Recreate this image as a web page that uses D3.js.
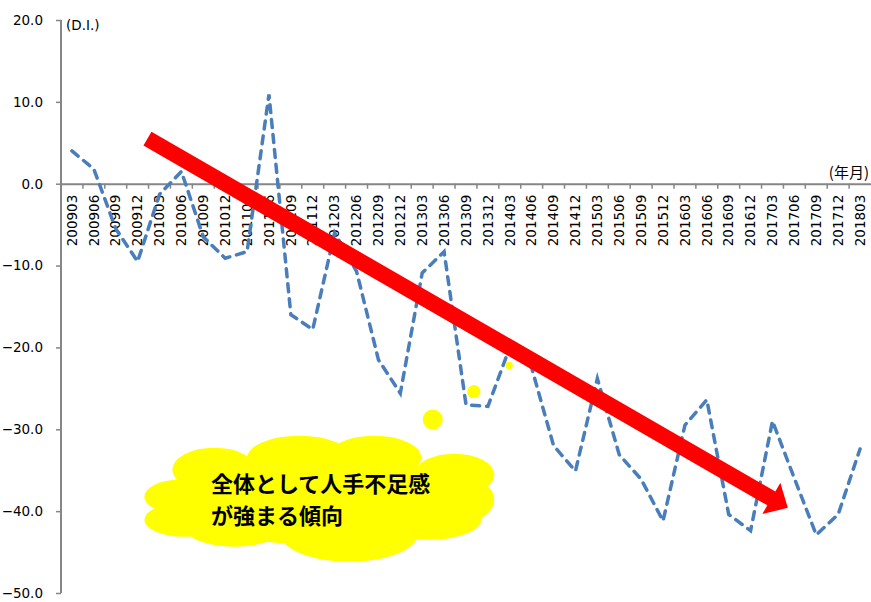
<!DOCTYPE html>
<html>
<head>
<meta charset="utf-8">
<script src="https://cdnjs.cloudflare.com/ajax/libs/d3/7.8.5/d3.min.js"></script>
<style>
  body { margin: 0; background: #fff; }
  svg { display: block; }
</style>
</head>
<body>
<script>
// quarterly D.I. (year+month)
var months = ["200903", "200906", "200909", "200912", "201003", "201006", "201009", "201012",
  "201103", "201106", "201109", "201112", "201203", "201206", "201209", "201212",
  "201303", "201306", "201309", "201312", "201403", "201406", "201409", "201412",
  "201503", "201506", "201509", "201512", "201603", "201606", "201609", "201612",
  "201703", "201706", "201709", "201712", "201803"];
var di = [4.0, 1.8, -5.5, -9.5, -1.3, 1.5, -6.5, -9.1,
  -8.3, 10.9, -16.0, -17.8, -6.0, -10.7, -21.5, -25.6,
  -10.9, -8.3, -27.0, -27.2, -20.0, -22.5, -32.0, -35.1,
  -23.8, -33.1, -36.1, -41.2, -29.5, -26.4, -40.4, -42.4,
  -29.0, -36.0, -42.9, -40.4, -32.4];
var yTicks = [-50, -40, -30, -20, -10, 0, 10, 20];

// annotation anchors: [category index, D.I.]
var trendFrom = [3.45, 5.5];
var trendTo = [32.7, -39.6];
var bubbleDots = [[16.48, -28.8, 10], [18.36, -25.4, 6.7], [19.97, -22.2, 3.7]];
var cloudAnchor = [11.3, -38.6];
var message = ["全体として人手不足感", "が強まる傾向"];

var width = 871, height = 602;

var svg = d3.select("body")
  .append("svg")
  .attr("width", width)
  .attr("height", height);

var x = d3.scaleBand()
  .domain(months)
  .range([61, 871])
  .padding(0);

var y = d3.scaleLinear()
  .domain([-50, 20])
  .range([593, 20]);

// position for a (possibly fractional) category index
function xAt(i) {
  return x(months[0]) + x.bandwidth() / 2 + i * x.step();
}

// y axis
var yAxis = svg.append("g")
  .attr("transform", "translate(61,0)")
  .call(d3.axisLeft(y).tickValues(yTicks).tickFormat(d3.format(".1f")).tickSize(5).tickPadding(13));

yAxis.select(".domain").attr("stroke", "#868686").attr("stroke-width", 2).attr("d", "M0," + y(-50) + "V" + y(20));
yAxis.selectAll(".tick line").attr("stroke", "#868686").attr("stroke-width", 1.5);
yAxis.selectAll("text")
  .attr("fill", "#000")
  .style("font-family", "DejaVu Sans")
  .style("font-size", "13.5px");

// x axis sits on zero
var xAxis = svg.append("g")
  .attr("transform", "translate(0," + y(0) + ")")
  .call(d3.axisBottom(x).tickSize(0).tickSizeOuter(0));

xAxis.select(".domain").attr("stroke", "#868686").attr("stroke-width", 2);
xAxis.selectAll(".tick line").remove();
xAxis.selectAll(".tick text")
  .attr("fill", "#000")
  .attr("transform", "rotate(-90)")
  .attr("text-anchor", "end")
  .attr("x", -11)
  .attr("y", 0)
  .attr("dy", "0.35em")
  .style("font-family", "DejaVu Sans")
  .style("font-size", "13.5px");

// tick marks between categories
xAxis.selectAll("line.sep")
  .data(months.slice(1))
  .enter()
  .append("line")
  .attr("class", "sep")
  .attr("x1", function (d) { return x(d); })
  .attr("x2", function (d) { return x(d); })
  .attr("y1", 0)
  .attr("y2", 5)
  .attr("stroke", "#868686")
  .attr("stroke-width", 1.5);

// unit labels
svg.append("text")
  .attr("x", 66)
  .attr("y", 30)
  .style("font-family", "DejaVu Sans")
  .style("font-size", "13.5px")
  .text("(D.I.)");

svg.append("text")
  .attr("x", 869)
  .attr("y", 178)
  .attr("text-anchor", "end")
  .style("font-family", "Noto Sans CJK JP")
  .style("font-size", "15px")
  .text("(年月)");

// the D.I. line
var line = d3.line()
  .x(function (d, i) { return x(months[i]) + x.bandwidth() / 2; })
  .y(function (d) { return y(d); });

svg.append("path")
  .datum(di)
  .attr("fill", "none")
  .attr("stroke", "#4a7ebb")
  .attr("stroke-width", 3.5)
  .attr("stroke-linecap", "round")
  .attr("stroke-dasharray", "8,7")
  .attr("d", line);

// red trend arrow
function arrowPoints(from, to, shaftW, headW, headL) {
  var x0 = xAt(from[0]), y0 = y(from[1]);
  var x1 = xAt(to[0]), y1 = y(to[1]);
  var len = Math.sqrt((x1 - x0) * (x1 - x0) + (y1 - y0) * (y1 - y0));
  var ux = (x1 - x0) / len, uy = (y1 - y0) / len;
  var px = -uy, py = ux;
  var bx = x1 - ux * headL, by = y1 - uy * headL;
  var pts = [
    [x0 + px * shaftW / 2, y0 + py * shaftW / 2],
    [bx + px * shaftW / 2, by + py * shaftW / 2],
    [bx + px * headW / 2, by + py * headW / 2],
    [x1, y1],
    [bx - px * headW / 2, by - py * headW / 2],
    [bx - px * shaftW / 2, by - py * shaftW / 2],
    [x0 - px * shaftW / 2, y0 - py * shaftW / 2]
  ];
  return pts.map(function (p) { return p[0] + "," + p[1]; }).join(" ");
}

svg.append("polygon")
  .attr("points", arrowPoints(trendFrom, trendTo, 16, 36, 19))
  .attr("fill", "#ff0000");

// thought cloud
var cx = xAt(cloudAnchor[0]), cy = y(cloudAnchor[1]);
var puffs = [
  [0, 0, 150, 45], [-105, -30, 42, 22], [-20, -42, 52, 22], [55, -42, 47, 22],
  [135, -25, 40, 21], [145, 0, 30, 22], [110, 20, 52, 20], [30, 35, 68, 27],
  [-85, 25, 52, 22], [-140, -3, 35, 17], [-135, 20, 40, 17]
];

svg.selectAll("ellipse.puff")
  .data(puffs)
  .enter()
  .append("ellipse")
  .attr("class", "puff")
  .attr("cx", function (d) { return cx + d[0]; })
  .attr("cy", function (d) { return cy + d[1]; })
  .attr("rx", function (d) { return d[2]; })
  .attr("ry", function (d) { return d[3]; })
  .attr("fill", "#ffff00");

svg.selectAll("circle.dot")
  .data(bubbleDots)
  .enter()
  .append("circle")
  .attr("class", "dot")
  .attr("cx", function (d) { return xAt(d[0]); })
  .attr("cy", function (d) { return y(d[1]); })
  .attr("r", function (d) { return d[2]; })
  .attr("fill", "#ffff00");

svg.selectAll("text.msg")
  .data(message)
  .enter()
  .append("text")
  .attr("class", "msg")
  .attr("x", 211)
  .attr("y", function (d, i) { return 492 + i * 32; })
  .style("font-family", "Noto Sans CJK JP")
  .style("font-weight", "bold")
  .style("font-size", "22px")
  .text(function (d) { return d; });
</script>
</body>
</html>
